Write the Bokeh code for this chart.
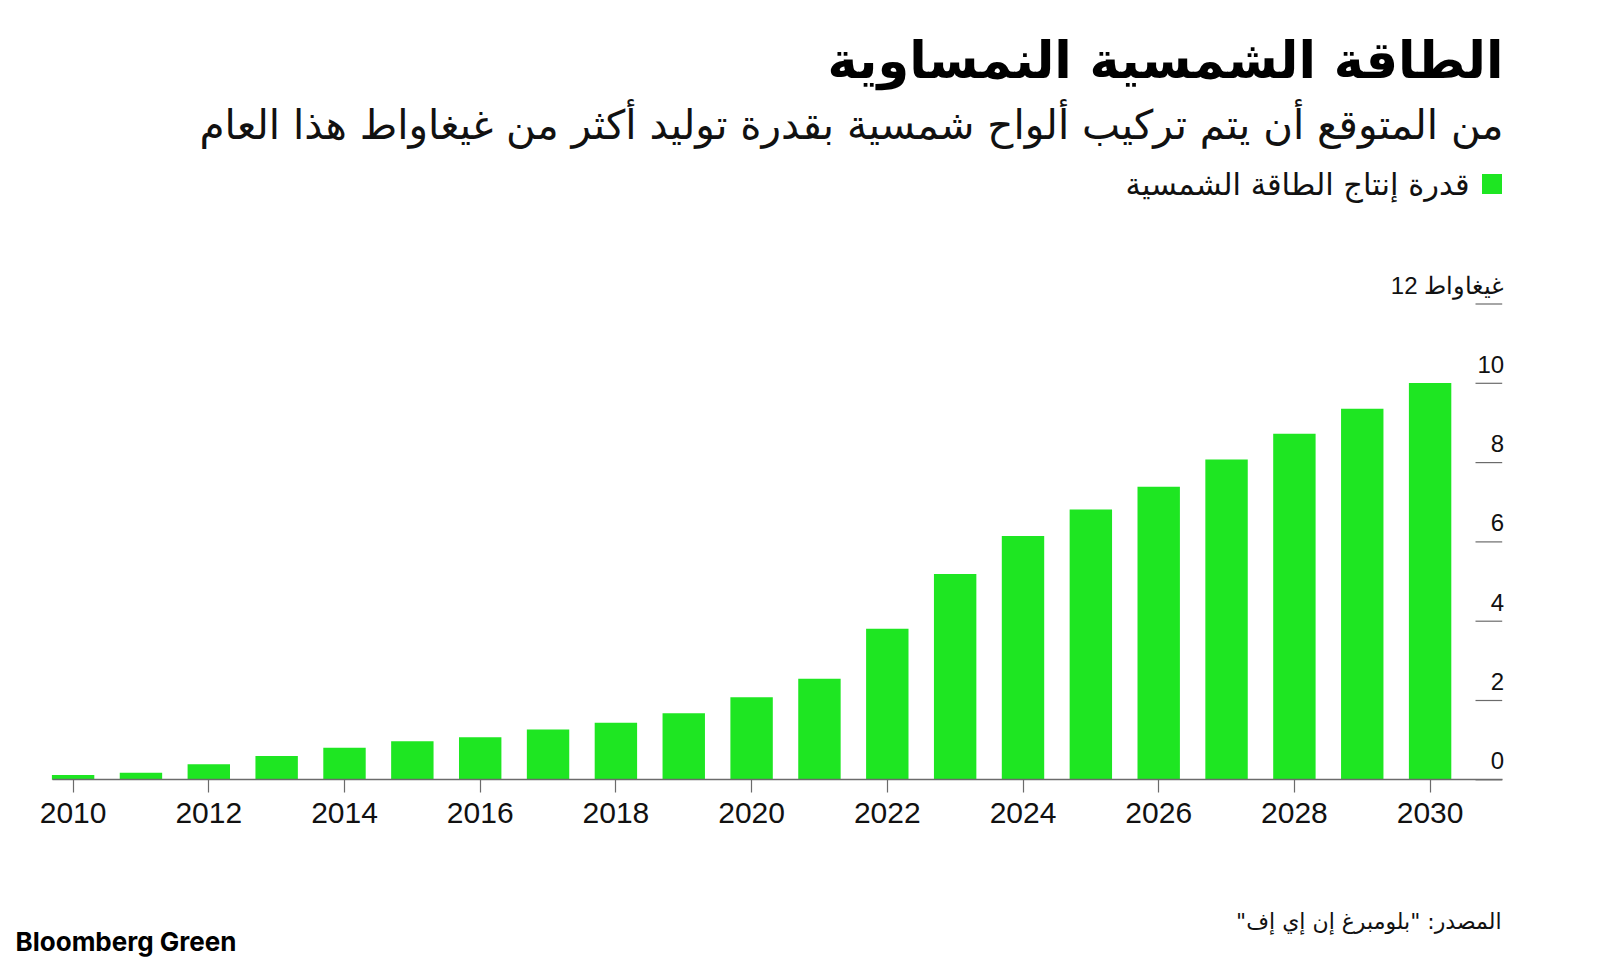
from bokeh.plotting import figure
from bokeh.models import ColumnDataSource, LinearAxis, FixedTicker, Label, Range1d
from bokeh.core.properties import value
from bokeh.embed import file_html
from bokeh.resources import INLINE

# ---------------- data ----------------
years = list(range(2010, 2031))
capacity_gw = [0.12, 0.18, 0.39, 0.60, 0.81, 0.97, 1.07, 1.27, 1.44, 1.68, 2.08,
               2.55, 3.81, 5.19, 6.15, 6.82, 7.39, 8.08, 8.73, 9.36, 10.01]
x_ticks = [2010, 2012, 2014, 2016, 2018, 2020, 2022, 2024, 2026, 2028, 2030]
y_ticks = [0, 2, 4, 6, 8, 10, 12]
y_tick_labels = ["0", "2", "4", "6", "8", "10", "غيغاواط 12"]

title_text = "الطاقة الشمسية النمساوية"
subtitle_text = "من المتوقع أن يتم تركيب ألواح شمسية بقدرة توليد أكثر من غيغاواط هذا العام"
legend_text = "قدرة إنتاج الطاقة الشمسية"
source_text = "المصدر: \"بلومبرغ إن إي إف\"\u200f"
logo_text = "Bloomberg Green"

# ---------------- layout (screen px of the 1600x964 page) ----------------
W, H = 1600, 964
MARGIN = 0
PX = 67.85          # px per year
PY = 39.65          # px per GW
X2010 = 72.6        # screen x of 2010 bar centre
Y0 = 779.3          # screen y of value 0

x_start = 2010 - (X2010 - MARGIN) / PX
x_end = x_start + W / PX
y_start = -(H - (Y0 - MARGIN)) / PY
y_end = y_start + H / PY


def dx(sx):
    return x_start + (sx - MARGIN) / PX


def dy(sy):
    return y_end - (sy - MARGIN) / PY


GREEN = "#1ee622"
AR_FONT = "DejaVu Sans"
NUM_FONT = "Liberation Sans"

p = figure(width=W, height=H, output_backend="svg", toolbar_location=None,
           x_range=Range1d(x_start, x_end), y_range=Range1d(y_start, y_end),
           x_axis_location=None, y_axis_location=None, min_border=0,
           background_fill_color="white", border_fill_color="white")
p.outline_line_color = None
p.grid.visible = False

src = ColumnDataSource(dict(year=years, gw=capacity_gw))
p.vbar(x="year", top="gw", width=0.625, bottom=0, source=src,
       fill_color=GREEN, line_color=None)

# x axis at value 0
xaxis = LinearAxis(fixed_location=0, ticker=FixedTicker(ticks=x_ticks),
                   bounds=(dx(51.5), dx(1501.7)))
xaxis.axis_line_color = "#6b6b6b"
xaxis.axis_line_width = 1.5
xaxis.major_tick_line_color = "#6b6b6b"
xaxis.major_tick_line_width = 1.2
xaxis.major_tick_out = 13
xaxis.major_tick_in = 0
xaxis.minor_tick_line_color = None
xaxis.major_label_text_font = NUM_FONT
xaxis.major_label_text_font_size = "30px"
xaxis.major_label_text_color = "#111111"
xaxis.major_label_standoff = 10
p.add_layout(xaxis, "below")

# y ticks: short lines at the right, labels sitting above them
tick_x1 = dx(1501.7)
tick_x0 = dx(1475.0)
ysrc = ColumnDataSource(dict(y=y_ticks, label=y_tick_labels,
                             x0=[tick_x0] * len(y_ticks), x1=[tick_x1] * len(y_ticks)))
p.segment(x0="x0", y0="y", x1="x1", y1="y", source=ysrc,
          line_color="#6b6b6b", line_width=1.2)
p.text(x="x1", y="y", text="label", source=ysrc, text_align="right",
       text_baseline="alphabetic", y_offset=-19, x_offset=2,
       text_font=value(NUM_FONT), text_font_size="24px", text_color="#111111")

# header
p.add_layout(Label(x=dx(1503), y=dy(60), text=title_text, text_align="right",
                   text_baseline="alphabetic", text_font=AR_FONT,
                   text_font_style="bold", text_font_size="51px", text_color="#000000"))
p.add_layout(Label(x=dx(1503), y=dy(124), text=subtitle_text, text_align="right",
                   text_baseline="alphabetic", text_font=AR_FONT,
                   text_font_size="40.5px", text_color="#111111"))
# legend
p.rect(x=[dx(1491.5)], y=[dy(183.5)], width=20 / PX, height=20 / PY,
       fill_color=GREEN, line_color=None)
p.add_layout(Label(x=dx(1469), y=dy(184), text=legend_text, text_align="right",
                   text_baseline="alphabetic", text_font=AR_FONT,
                   text_font_size="30.5px", text_color="#111111"))
# footer
p.add_layout(Label(x=dx(1501), y=dy(921), text=source_text, text_align="right",
                   text_baseline="alphabetic", text_font=AR_FONT,
                   text_font_size="22px", text_color="#111111"))
p.add_layout(Label(x=dx(15), y=dy(941), text=logo_text, text_align="left",
                   text_baseline="alphabetic", text_font="Inter",
                   text_font_style="bold", text_font_size="26px", text_color="#000000"))

open("out.html", "w").write(file_html(p, INLINE))
